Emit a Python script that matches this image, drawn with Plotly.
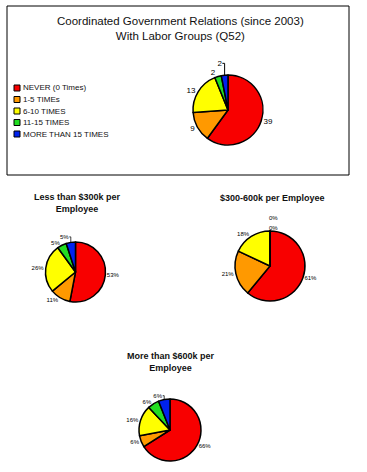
import plotly.graph_objects as go

W, H = 367, 472

categories = ["NEVER (0 Times)", "1-5 TIMEs", "6-10 TIMES", "11-15 TIMES", "MORE THAN 15 TIMES"]
colors = ["#F80000", "#FF9900", "#FFFF00", "#22DD22", "#0022EE"]

overall_counts = [39, 9, 13, 2, 2]
less300_pct = [53, 11, 26, 5, 5]
mid300_600_pct = [61, 21, 18, 0, 0]
more600_pct = [66, 6, 16, 6, 6]

main_title = "Coordinated Government Relations (since 2003)<br>With Labor Groups (Q52)"
sub_titles = ["Less than $300k per<br>Employee", "$300-600k per Employee", "More than $600k per<br>Employee"]

FONT = "Liberation Sans, Arial, sans-serif"


def px(x):
    return x / W


def py(y):
    return 1 - y / H


def dom(cx, cy, r):
    return dict(x=[px(cx - r), px(cx + r)], y=[py(cy + r), py(cy - r)])


fig = go.Figure()

pies = [
    (overall_counts, (228, 110, 35), "%{value}", 8),
    (less300_pct, (75.5, 272, 30), "%{value}%", 6),
    (mid300_600_pct, (270, 266, 35), "%{value}%", 6),
    (more600_pct, (170, 430, 31), "%{value}%", 6),
]

for vals, (cx, cy, r), tmpl, fs in pies:
    fig.add_trace(go.Pie(
        labels=categories, values=vals, sort=False, direction="clockwise", rotation=0,
        marker=dict(colors=colors, line=dict(color="black", width=1.5)),
        textposition="outside",
        texttemplate=[tmpl if v != 0 else "" for v in vals],
        textfont=dict(size=fs, color="black", family=FONT),
        domain=dom(cx, cy, r), showlegend=False, hoverinfo="label+value",
    ))

# zero-value labels for the middle pie, stacked above the 12 o'clock point
zero_vals = [v for v in mid300_600_pct if v == 0]
for i, v in enumerate(zero_vals):
    fig.add_annotation(x=px(273), y=py(218 + 10 * i), xref="paper", yref="paper",
                       text=f"{v}%", showarrow=False, xanchor="center", yanchor="middle",
                       font=dict(size=6, family=FONT, color="black"))

# outer box of the main chart
fig.add_shape(type="rect", xref="paper", yref="paper", x0=px(7), x1=px(349), y0=py(175), y1=py(6),
              line=dict(color="black", width=1), fillcolor="rgba(0,0,0,0)")

fig.add_annotation(x=px(180), y=py(29), xref="paper", yref="paper", text=main_title, showarrow=False,
                   xanchor="center", yanchor="middle",
                   font=dict(size=11.5, family=FONT, color="#111"))

for t, (x, y) in zip(sub_titles, [(77, 203), (272, 198), (171, 362)]):
    fig.add_annotation(x=px(x), y=py(y), xref="paper", yref="paper", text=f"<b>{t}</b>", showarrow=False,
                       xanchor="center", yanchor="middle",
                       font=dict(size=9, family=FONT, color="#111"))

# legend
for i, (c, lab) in enumerate(zip(colors, categories)):
    yy = 88 + i * 11.5
    fig.add_shape(type="rect", xref="paper", yref="paper", x0=px(14), x1=px(20),
                  y0=py(yy + 3), y1=py(yy - 3), line=dict(color="black", width=1), fillcolor=c)
    fig.add_annotation(x=px(21), y=py(yy), xref="paper", yref="paper", text=lab, showarrow=False,
                       xanchor="left", yanchor="middle", font=dict(size=8, family=FONT, color="#111"))

fig.update_layout(width=W, height=H, margin=dict(l=0, r=0, t=0, b=0), paper_bgcolor="white",
                  plot_bgcolor="white", showlegend=False)

fig.write_html("out.html", config={"displayModeBar": False},
               post_script="document.body.style.margin='0';document.body.style.overflow='hidden';")
